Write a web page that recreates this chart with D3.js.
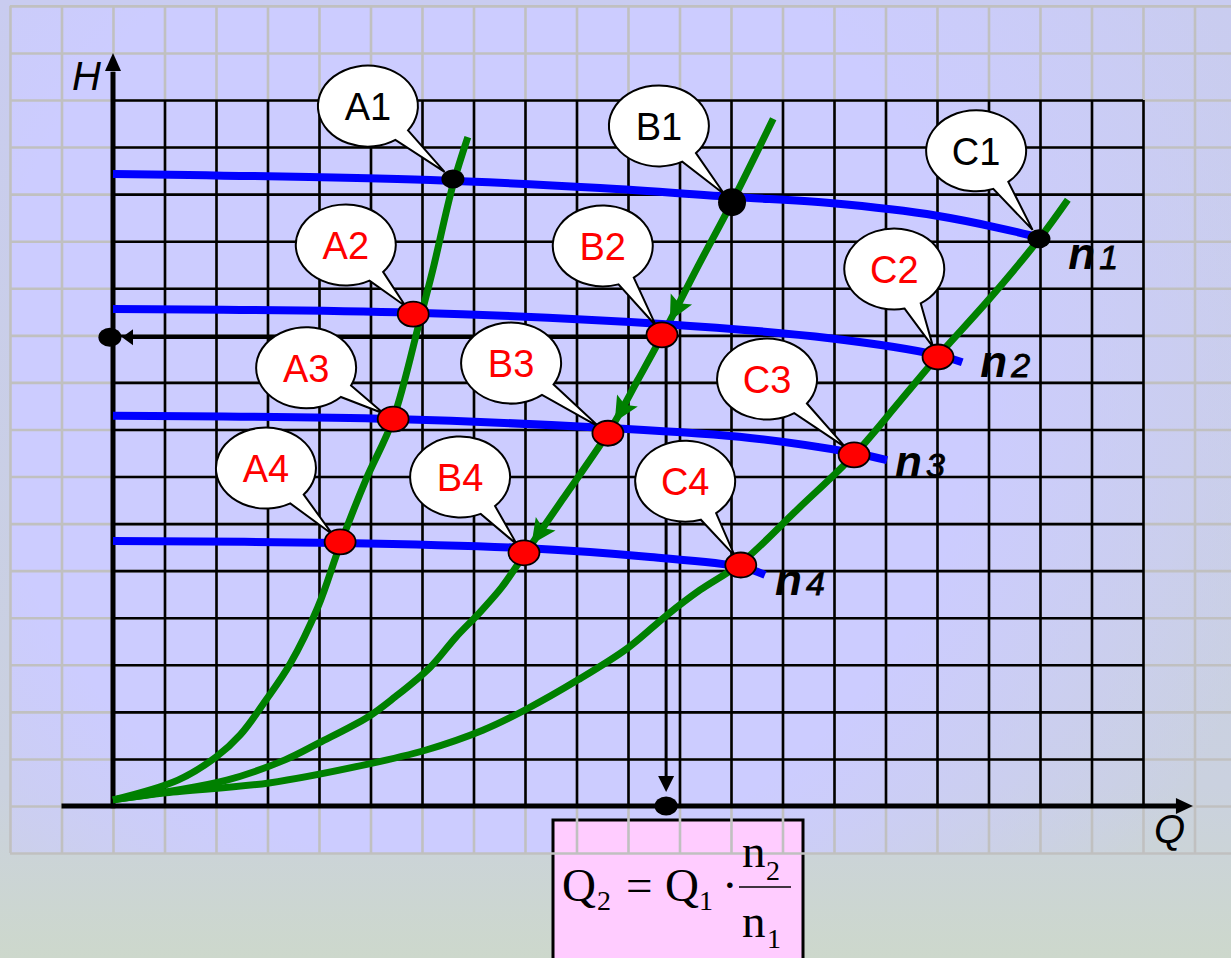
<!DOCTYPE html>
<html>
<head>
<meta charset="utf-8">
<script src="https://cdn.jsdelivr.net/npm/d3@7"></script>
<style>
    html, body { margin: 0; padding: 0; overflow: hidden; }
    body { width: 1231px; height: 958px; }
    svg { display: block; }
</style>
</head>
<body>
<div id="chart"></div>
<script>

// all values are in grid units: one cell of the black grid = 1 unit of Q (x) and of H (y)
const qCells = 20, hCells = 15;

// pump characteristics H(Q) at the speeds n1 > n2 > n3 > n4
const pumpN1 = [[0, 13.43], [6.16, 13.30], [9.46, 13.13], [12.04, 12.94], [13.92, 12.81], [16.0, 12.54], [18.0, 12.07], [18.16, 12.0]];
const pumpN2 = [[0, 10.56], [5.83, 10.48], [10.66, 10.24], [13.92, 9.94], [16.02, 9.58], [16.49, 9.43]];
const pumpN3 = [[0, 8.29], [5.44, 8.22], [9.61, 8.03], [12.37, 7.82], [14.39, 7.50], [15.03, 7.35]];
const pumpN4 = [[0, 5.63], [4.41, 5.59], [7.98, 5.48], [10.43, 5.29], [12.19, 5.08], [12.66, 4.91]];
const speedNames = ["1", "2", "3", "4"];

// similarity parabolas through the origin
const parabolaA = [[0, 0.13], [1.26, 0.55], [2.0, 1.04], [2.47, 1.51], [2.97, 2.25], [3.44, 3.02], [3.98, 4.23], [4.41, 5.55],
    [4.91, 6.93], [5.44, 8.22], [5.96, 10.33], [6.21, 11.39], [6.60, 13.19], [6.89, 14.21]];
const parabolaB = [[0, 0.13], [2.21, 0.55], [3.34, 0.98], [4.0, 1.34], [4.95, 1.89], [5.48, 2.32], [6.16, 2.95], [6.66, 3.59],
    [7.11, 4.10], [7.55, 4.65], [7.98, 5.33], [8.72, 6.50], [9.65, 7.99], [10.19, 9.05], [10.72, 10.11], [11.36, 11.47],
    [12.02, 12.83], [12.82, 14.60]];
const parabolaC = [[0, 0.13], [1.03, 0.28], [3.03, 0.49], [4.95, 0.89], [6.08, 1.19], [7.18, 1.61], [8.0, 2.04], [9.03, 2.68],
    [10.0, 3.36], [10.76, 4.06], [11.40, 4.59], [12.19, 5.16], [13.28, 6.29], [14.39, 7.46], [15.28, 8.60], [16.02, 9.56],
    [17.03, 10.79], [18.0, 12.07], [18.54, 12.88]];

// operating points and the callouts that name them
const pointLabels = ["A1", "B1", "C1", "A2", "B2", "C2", "A3", "B3", "C3", "A4", "B4", "C4"];
const pointQ = [6.60, 12.02, 17.98, 5.83, 10.66, 16.02, 5.44, 9.61, 14.39, 4.41, 7.98, 12.19];
const pointH = [13.32, 12.83, 12.05, 10.45, 10.01, 9.54, 8.22, 7.92, 7.46, 5.61, 5.38, 5.12];
const calloutQ = [4.95, 10.60, 16.76, 4.52, 9.51, 15.17, 3.75, 7.73, 12.70, 2.97, 6.74, 11.11];
const calloutH = [14.87, 14.45, 13.92, 11.92, 11.90, 11.41, 9.31, 9.41, 9.07, 7.18, 6.99, 6.90];

// direction arrows along parabola B
const arrowQ = [10.78, 9.75, 8.14];
const arrowH = [10.32, 8.16, 5.55];

// projection of B2 onto the axes
const projQ = 10.74, projH = 9.96;


class SimilarityVis {

    constructor(parentElement) {
        this.parentElement = parentElement;
        this.initVis();
    }

    initVis() {
        let vis = this;

        vis.width = 1231;
        vis.height = 958;

        vis.svg = d3.select("#" + vis.parentElement).append("svg")
            .attr("width", vis.width)
            .attr("height", vis.height);

        // scales: black grid spans x 113..1143, y 806..100
        vis.x = d3.scaleLinear().domain([0, qCells]).range([113, 1143]);
        vis.y = d3.scaleLinear().domain([0, hCells]).range([806, 100]);

        vis.drawBackground();
        vis.drawGrids();
        vis.drawAxes();
        vis.drawCurves();
        vis.drawCallouts();
        vis.drawPoints();
        vis.drawFormula();
    }

    drawBackground() {
        let vis = this;
        let defs = vis.svg.append("defs");

        let bg = defs.append("linearGradient").attr("id", "bg")
            .attr("x1", 0).attr("y1", 0).attr("x2", 0).attr("y2", 1);
        bg.append("stop").attr("offset", "0%").attr("stop-color", "#c9ccf0");
        bg.append("stop").attr("offset", "82%").attr("stop-color", "#cad1df");
        bg.append("stop").attr("offset", "100%").attr("stop-color", "#cdd8cc");

        let lav = defs.append("radialGradient").attr("id", "lav")
            .attr("gradientUnits", "userSpaceOnUse")
            .attr("cx", 480).attr("cy", 380).attr("r", 820);
        lav.append("stop").attr("offset", "0%").attr("stop-color", "#ccccff").attr("stop-opacity", 1);
        lav.append("stop").attr("offset", "60%").attr("stop-color", "#ccccff").attr("stop-opacity", 1);
        lav.append("stop").attr("offset", "100%").attr("stop-color", "#ccccff").attr("stop-opacity", 0);

        vis.svg.append("rect")
            .attr("width", vis.width).attr("height", vis.height)
            .attr("fill", "url(#bg)");

        vis.svg.append("rect")
            .attr("x", vis.x(-2)).attr("y", vis.y(17))
            .attr("width", vis.x(22) - vis.x(-2))
            .attr("height", vis.y(-1) - vis.y(17))
            .attr("fill", "url(#lav)");

        // pink box behind the formula (drawn before the grey grid, which runs over it)
        vis.svg.append("rect")
            .attr("x", 553).attr("y", 820)
            .attr("width", 250).attr("height", 160)
            .attr("fill", "#ffccff")
            .attr("stroke", "#000")
            .attr("stroke-width", 3);
    }

    drawGrids() {
        let vis = this;

        // outer grey grid, two cells wider than the black one on every side
        let gx = d3.scaleLinear().domain([-2, 22]).range([vis.x(-2), vis.x(22)]);
        let gy = d3.scaleLinear().domain([-1, 17]).range([vis.y(-1), vis.y(17)]);

        let grey = vis.svg.append("g").attr("class", "grey-grid");
        grey.append("g")
            .attr("transform", "translate(0," + gy(-1) + ")")
            .call(d3.axisBottom(gx).tickValues(d3.range(-2, 23)).tickSize(-(gy(-1) - gy(17))).tickFormat(""));
        grey.append("g")
            .attr("transform", "translate(" + gx(-2) + ",0)")
            .call(d3.axisLeft(gy).tickValues(d3.range(-1, 18)).tickSize(-(gx(22) - gx(-2))).tickFormat(""));
        grey.selectAll(".domain").remove();
        grey.selectAll("line").attr("stroke", "#c0c0c0").attr("stroke-width", 2.6);

        // black grid
        let black = vis.svg.append("g").attr("class", "black-grid");
        black.append("g")
            .attr("transform", "translate(0," + vis.y(0) + ")")
            .call(d3.axisBottom(vis.x).tickValues(d3.range(1, qCells + 1)).tickSize(-(vis.y(0) - vis.y(hCells))).tickFormat(""));
        black.append("g")
            .attr("transform", "translate(" + vis.x(0) + ",0)")
            .call(d3.axisLeft(vis.y).tickValues(d3.range(1, hCells + 1)).tickSize(-(vis.x(qCells) - vis.x(0))).tickFormat(""));
        black.selectAll(".domain").remove();
        black.selectAll("line").attr("stroke", "#000").attr("stroke-width", 2.6);
    }

    drawAxes() {
        let vis = this;
        let g = vis.svg.append("g").attr("class", "axes");

        // H axis
        g.append("line")
            .attr("x1", vis.x(0)).attr("x2", vis.x(0))
            .attr("y1", vis.y(-0.05)).attr("y2", vis.y(15.6))
            .attr("stroke", "#000").attr("stroke-width", 5);
        g.append("path")
            .attr("d", "M" + vis.x(0) + "," + vis.y(16) + "l8,18h-16z")
            .attr("fill", "#000");
        g.append("text")
            .attr("x", 72).attr("y", 90)
            .attr("font-family", "Liberation Sans, Arial, sans-serif")
            .attr("font-style", "italic")
            .attr("font-size", 40)
            .text("H");

        // Q axis
        g.append("line")
            .attr("x1", vis.x(-1)).attr("x2", vis.x(20.7))
            .attr("y1", vis.y(0)).attr("y2", vis.y(0))
            .attr("stroke", "#000").attr("stroke-width", 5);
        g.append("path")
            .attr("d", "M" + vis.x(20.97) + "," + vis.y(0) + "l-17,-8v16z")
            .attr("fill", "#000");
        g.append("text")
            .attr("x", 1154).attr("y", 843)
            .attr("font-family", "Liberation Sans, Arial, sans-serif")
            .attr("font-style", "italic")
            .attr("font-size", 40)
            .text("Q");

        // projection lines from B2
        g.append("line")
            .attr("x1", vis.x(projQ)).attr("x2", vis.x(0) + 19)
            .attr("y1", vis.y(projH)).attr("y2", vis.y(projH))
            .attr("stroke", "#000").attr("stroke-width", 3.5);
        g.append("path")
            .attr("d", "M" + (vis.x(0) + 9) + "," + vis.y(projH) + "l11,-8v16z")
            .attr("fill", "#000");
        g.append("line")
            .attr("x1", vis.x(projQ)).attr("x2", vis.x(projQ))
            .attr("y1", vis.y(projH)).attr("y2", vis.y(0) - 28)
            .attr("stroke", "#000").attr("stroke-width", 3);
        g.append("path")
            .attr("d", "M" + vis.x(projQ) + "," + (vis.y(0) - 14) + "l-8,-16h16z")
            .attr("fill", "#000");

        g.selectAll(".proj-dot")
            .data([[projQ, 0], [-0.06, projH]])
            .enter().append("ellipse")
            .attr("cx", d => vis.x(d[0]))
            .attr("cy", d => vis.y(d[1]))
            .attr("rx", 11.5).attr("ry", 9.5)
            .attr("fill", "#000");
    }

    drawCurves() {
        let vis = this;

        vis.line = d3.line()
            .x(d => vis.x(d[0]))
            .y(d => vis.y(d[1]))
            .curve(d3.curveCatmullRom.alpha(0.5));

        let pumps = [pumpN1, pumpN2, pumpN3, pumpN4];
        let parabolas = [parabolaA, parabolaB, parabolaC];

        vis.svg.append("g").attr("class", "parabolas")
            .selectAll("path")
            .data(parabolas)
            .enter().append("path")
            .attr("d", vis.line)
            .attr("fill", "none")
            .attr("stroke", "#008000")
            .attr("stroke-width", 7);

        vis.svg.append("g").attr("class", "pumps")
            .selectAll("path")
            .data(pumps)
            .enter().append("path")
            .attr("d", vis.line)
            .attr("fill", "none")
            .attr("stroke", "#0000ff")
            .attr("stroke-width", 8);

        // speed labels at the end of each pump curve
        let labelOffsets = [[22, 28], [20, 15], [10, 17], [12, 20]];
        let labels = vis.svg.append("g").attr("class", "speed-labels")
            .attr("font-family", "Liberation Sans, Arial, sans-serif")
            .attr("font-style", "italic")
            .attr("font-weight", "bold");
        pumps.forEach(function(p, i) {
            let end = p[p.length - 1];
            let px = vis.x(end[0]) + labelOffsets[i][0];
            let py = vis.y(end[1]) + labelOffsets[i][1];
            labels.append("text").attr("x", px - 2).attr("y", py).attr("font-size", 44).text("n");
            labels.append("text").attr("x", px + 29).attr("y", py).attr("font-size", 34)
                .attr("font-weight", "normal").attr("stroke", "#000").attr("stroke-width", 0.8)
                .text(speedNames[i]);
        });

        // arrowheads on parabola B, pointing back towards the origin
        let pathB = vis.svg.select(".parabolas").selectAll("path").nodes()[1];
        let total = pathB.getTotalLength();
        arrowQ.forEach(function(q, i) {
            let tx = vis.x(q), ty = vis.y(arrowH[i]);
            let best = 0, bestD = Infinity;
            for (let l = 0; l <= total; l += 1) {
                let p = pathB.getPointAtLength(l);
                let d = (p.x - tx) * (p.x - tx) + (p.y - ty) * (p.y - ty);
                if (d < bestD) { bestD = d; best = l; }
            }
            let a = pathB.getPointAtLength(Math.max(0, best - 3));
            let b = pathB.getPointAtLength(Math.min(total, best + 3));
            let dx = a.x - b.x, dy = a.y - b.y;
            let len = Math.sqrt(dx * dx + dy * dy);
            dx /= len; dy /= len;
            let tip = pathB.getPointAtLength(best);
            let bx = tip.x - dx * 25, by = tip.y - dy * 25;
            vis.svg.append("path")
                .attr("d", "M" + tip.x + "," + tip.y +
                    "L" + (bx - dy * 12) + "," + (by + dx * 12) +
                    "L" + (bx + dx * 5) + "," + (by + dy * 5) +
                    "L" + (bx + dy * 12) + "," + (by - dx * 12) + "Z")
                .attr("fill", "#008000");
        });
    }

    drawCallouts() {
        let vis = this;
        let rx = 50, ry = 40.5, spread = 10 * Math.PI / 180;

        let g = vis.svg.append("g").attr("class", "callouts");

        pointLabels.forEach(function(label, i) {
            let cx = vis.x(calloutQ[i]), cy = vis.y(calloutH[i]);
            let px = vis.x(pointQ[i]), py = vis.y(pointH[i]);

            // tail tip sits on the dot's edge, facing the bubble
            let vx = cx - px, vy = cy - py;
            let vl = Math.sqrt(vx * vx + vy * vy);
            let tipX = px + vx / vl * 11, tipY = py + vy / vl * 11;

            let th = Math.atan2((tipY - cy) / ry, (tipX - cx) / rx);
            let b1x = cx + rx * Math.cos(th - spread), b1y = cy + ry * Math.sin(th - spread);
            let b2x = cx + rx * Math.cos(th + spread), b2y = cy + ry * Math.sin(th + spread);

            g.append("path")
                .attr("d", "M" + b1x + "," + b1y + "L" + tipX + "," + tipY + "L" + b2x + "," + b2y +
                    "A" + rx + "," + ry + " 0 1 1 " + b1x + "," + b1y + "Z")
                .attr("fill", "#fff")
                .attr("stroke", "#000")
                .attr("stroke-width", 2);

            g.append("text")
                .attr("x", cx).attr("y", cy + 14)
                .attr("text-anchor", "middle")
                .attr("font-family", "Liberation Sans, Arial, sans-serif")
                .attr("font-size", 38)
                .attr("fill", label.endsWith("1") ? "#000" : "#ff0000")
                .text(label);
        });
    }

    drawPoints() {
        let vis = this;

        let data = pointLabels.map((label, i) => ({label: label, q: pointQ[i], h: pointH[i]}));

        vis.svg.append("g").attr("class", "points")
            .selectAll("ellipse")
            .data(data)
            .enter().append("ellipse")
            .attr("cx", d => vis.x(d.q))
            .attr("cy", d => vis.y(d.h))
            .attr("rx", d => d.label === "B1" ? 14 : (d.label.endsWith("1") ? 11.5 : 15.5))
            .attr("ry", d => d.label === "B1" ? 14 : (d.label.endsWith("1") ? 9.5 : 12.5))
            .attr("fill", d => d.label.endsWith("1") ? "#000" : "#ff0000")
            .attr("stroke", "#000")
            .attr("stroke-width", d => d.label.endsWith("1") ? 0 : 1.8);
    }

    drawFormula() {
        let vis = this;
        let g = vis.svg.append("g").attr("class", "formula")
            .attr("font-family", "Liberation Serif, Times New Roman, serif");

        let pieces = [
            {t: "Q", x: 562, y: 901, s: 47},
            {t: "2", x: 597, y: 910, s: 28},
            {t: "=", x: 626, y: 901, s: 47},
            {t: "Q", x: 665, y: 901, s: 47},
            {t: "1", x: 699, y: 910, s: 28},
            {t: "·", x: 722, y: 901, s: 47},
            {t: "n", x: 742, y: 867, s: 47},
            {t: "2", x: 766, y: 880, s: 28},
            {t: "n", x: 742, y: 937, s: 47},
            {t: "1", x: 767, y: 948, s: 28}
        ];
        g.selectAll("text")
            .data(pieces)
            .enter().append("text")
            .attr("x", d => d.x).attr("y", d => d.y)
            .attr("font-size", d => d.s)
            .text(d => d.t);

        g.append("line")
            .attr("x1", 739).attr("x2", 791)
            .attr("y1", 887).attr("y2", 887)
            .attr("stroke", "#000").attr("stroke-width", 1.6);
    }
}

new SimilarityVis("chart");

</script>
</body>
</html>
